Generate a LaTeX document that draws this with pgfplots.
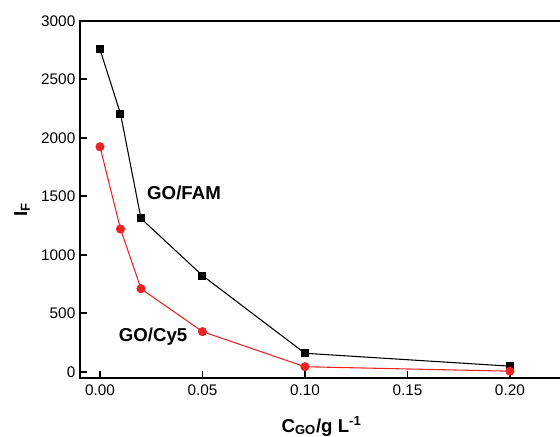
\documentclass[border=0pt]{standalone}
\usepackage{fontspec}
\setmainfont{Liberation Sans}
\usepackage{pgfplots}
\pgfplotsset{compat=1.18}
\definecolor{myred}{RGB}{238,34,34}
\begin{document}
\begin{tikzpicture}
\begin{axis}[
  at={(0,0)}, anchor=south west,
  scale only axis,
  width=362.25pt, height=267.75pt,
  xmin=-0.00976, xmax=0.2259,
  ymin=-51, ymax=3000,
  xtick pos=bottom, ytick pos=left,
  axis line style={line width=1.4pt},
  tick style={line width=1.2pt, black},
  tick align=inside,
  major tick length=5pt,
  xtick={0,0.05,0.10,0.15,0.20},
  xticklabels={0.00,0.05,0.10,0.15,0.20},
  ytick={0,500,1000,1500,2000,2500,3000},
  minor tick num=0,
  /pgf/number format/assume math mode=true,
  ticklabel style={font=\fontsize{11.5}{13}\selectfont},
  xticklabel style={yshift=-2pt},
  yticklabel style={/pgf/number format/1000 sep={}},
  xlabel={\textbf{C\textsubscript{GO}/g L\textsuperscript{-1}}},
  xlabel style={at={(axis description cs:0.5,0)}, anchor=base, yshift=-40.7pt, font=\fontsize{14}{16}\selectfont},
  ylabel={\textbf{I\textsubscript{F}}},
  ylabel style={at={(axis description cs:-0.12,0.47)}, anchor=center, font=\fontsize{14}{16}\selectfont},
  clip=false,
]
\addplot[black, line width=0.8pt, mark=square*, mark size=2.6pt, mark options={solid}] coordinates {
  (0,2755) (0.01,2205) (0.02,1310) (0.05,822) (0.10,158) (0.20,48)
};
\addplot[myred, line width=0.8pt, mark=*, mark size=3pt, mark options={solid}] coordinates {
  (0,1923) (0.01,1220) (0.02,710) (0.05,343) (0.10,43) (0.20,5)
};
\node[font=\bfseries\fontsize{14}{16}\selectfont] at (axis cs:0.041,1528) {GO/FAM};
\node[font=\bfseries\fontsize{14}{16}\selectfont] at (axis cs:0.0259,299) {GO/Cy5};
\end{axis}
\pgfresetboundingbox
\useasboundingbox (-60pt,-43.7pt) rectangle (360pt,283.3pt);
\end{tikzpicture}
\end{document}
